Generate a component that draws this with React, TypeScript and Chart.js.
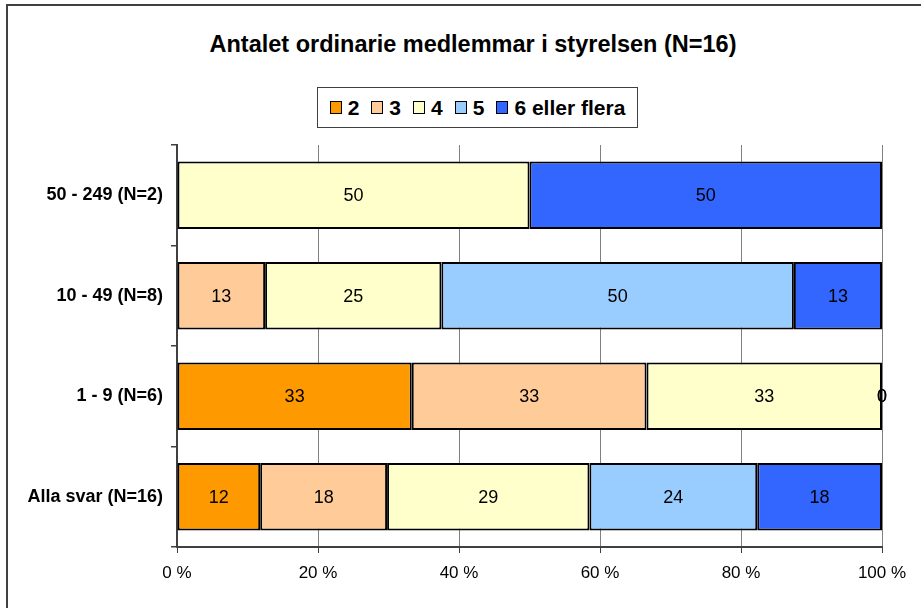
import React, { useEffect, useRef } from "react";
import { Chart, registerables } from "chart.js";

Chart.register(...registerables);

const TITLE = "Antalet ordinarie medlemmar i styrelsen (N=16)";
const categories = ["50 - 249 (N=2)", "10 - 49 (N=8)", "1 - 9 (N=6)", "Alla svar (N=16)"];
const seriesNames = ["2", "3", "4", "5", "6 eller flera"];
const seriesColors = ["#FF9900", "#FFCC99", "#FFFFCC", "#99CCFF", "#3366FF"];
const s2 = [null, null, 33.3, 11.8];
const s3 = [null, 12.5, 33.3, 18.0];
const s4 = [50, 25, 33.4, 28.7];
const s5 = [null, 50, 0, 23.8];
const s6 = [50, 12.5, 0, 17.7];
const xTicks = [0, 20, 40, 60, 80, 100];

const seriesValues = [s2, s3, s4, s5, s6];

const labelPlugin = {
  id: "barLabels",
  afterDatasetsDraw(chart: any) {
    const ctx = chart.ctx;
    ctx.save();
    ctx.font = "18px 'Liberation Sans', Arial, sans-serif";
    ctx.fillStyle = "#000";
    ctx.textAlign = "center";
    ctx.textBaseline = "middle";
    chart.data.datasets.forEach((ds: any, di: number) => {
      const meta = chart.getDatasetMeta(di);
      meta.data.forEach((el: any, i: number) => {
        const v = ds.data[i];
        if (v === null || v === undefined) return;
        const cx = (el.x + el.base) / 2;
        ctx.fillText(String(Math.round(v)), cx, el.y + 1);
      });
    });
    ctx.restore();
  },
};

export default function App() {
  const ref = useRef<HTMLCanvasElement | null>(null);

  useEffect(() => {
    const canvas = ref.current;
    if (!canvas) return;
    const chart = new Chart(canvas, {
      type: "bar",
      data: {
        labels: categories,
        datasets: seriesNames.map((name, i) => ({
          label: name,
          data: seriesValues[i] as any,
          backgroundColor: seriesColors[i],
          borderColor: "#000000",
          borderWidth: 2,
          borderSkipped: false,
          barPercentage: 0.67,
          categoryPercentage: 1,
        })),
      },
      options: {
        indexAxis: "y",
        responsive: false,
        animation: false,
        devicePixelRatio: 1,
        layout: { padding: { top: 145, right: 39, left: 0, bottom: 0 } },
        plugins: {
          legend: { display: false },
          title: { display: false },
          tooltip: { enabled: false },
        },
        scales: {
          x: {
            stacked: true,
            min: 0,
            max: 100,
            afterBuildTicks: (scale: any) => {
              scale.ticks = xTicks.map((v) => ({ value: v }));
            },
            afterFit: (scale: any) => {
              scale.height = 61;
            },
            ticks: {
              callback: (v: any) => v + " %",
              font: { family: "'Liberation Sans', Arial, sans-serif", size: 17 },
              color: "#000",
              padding: 10,
              maxRotation: 0,
            },
            grid: { color: "#808080", lineWidth: 1, tickLength: 6, tickColor: "#404040" },
            border: { color: "#404040", width: 2 },
          },
          y: {
            stacked: true,
            afterFit: (scale: any) => {
              scale.width = 177;
            },
            ticks: {
              font: { family: "'Liberation Sans', Arial, sans-serif", size: 18, weight: "bold" },
              color: "#000",
              padding: 8,
            },
            grid: { offset: true, drawOnChartArea: false, tickLength: 6, color: "#404040", lineWidth: 1.5 },
            border: { color: "#404040", width: 2 },
          },
        },
      },
      plugins: [labelPlugin],
    } as any);
    return () => chart.destroy();
  }, []);

  const legendFont = "bold 21px 'Liberation Sans', Arial, sans-serif";

  return (
    <div style={{ position: "fixed", left: 0, top: 0, width: 921, height: 608, background: "#fff", overflow: "hidden" }}>
      <div
        style={{
          position: "absolute",
          left: 6,
          top: 4,
          width: 940,
          height: 640,
          borderLeft: "2px solid #404040",
          borderTop: "2px solid #404040",
        }}
      />
      <div
        style={{
          position: "absolute",
          left: 0,
          top: 30,
          width: 946,
          textAlign: "center",
          font: "bold 23.5px 'Liberation Sans', Arial, sans-serif",
          lineHeight: "28px",
          color: "#000",
        }}
      >
        {TITLE}
      </div>
      <div
        style={{
          position: "absolute",
          left: 317,
          top: 87,
          width: 321,
          height: 41,
          border: "1px solid #404040",
          display: "flex",
          alignItems: "center",
          justifyContent: "center",
          boxSizing: "border-box",
          gap: 12,
          font: legendFont,
          color: "#000",
        }}
      >
        {seriesNames.map((n, i) => (
          <div key={n} style={{ display: "flex", alignItems: "center", gap: 6 }}>
            <span
              style={{
                display: "inline-block",
                width: 10,
                height: 11,
                background: seriesColors[i],
                border: "1px solid #000",
              }}
            />
            <span>{n}</span>
          </div>
        ))}
      </div>
      <canvas ref={ref} width={921} height={608} style={{ position: "absolute", left: 0, top: 0 }} />
    </div>
  );
}
